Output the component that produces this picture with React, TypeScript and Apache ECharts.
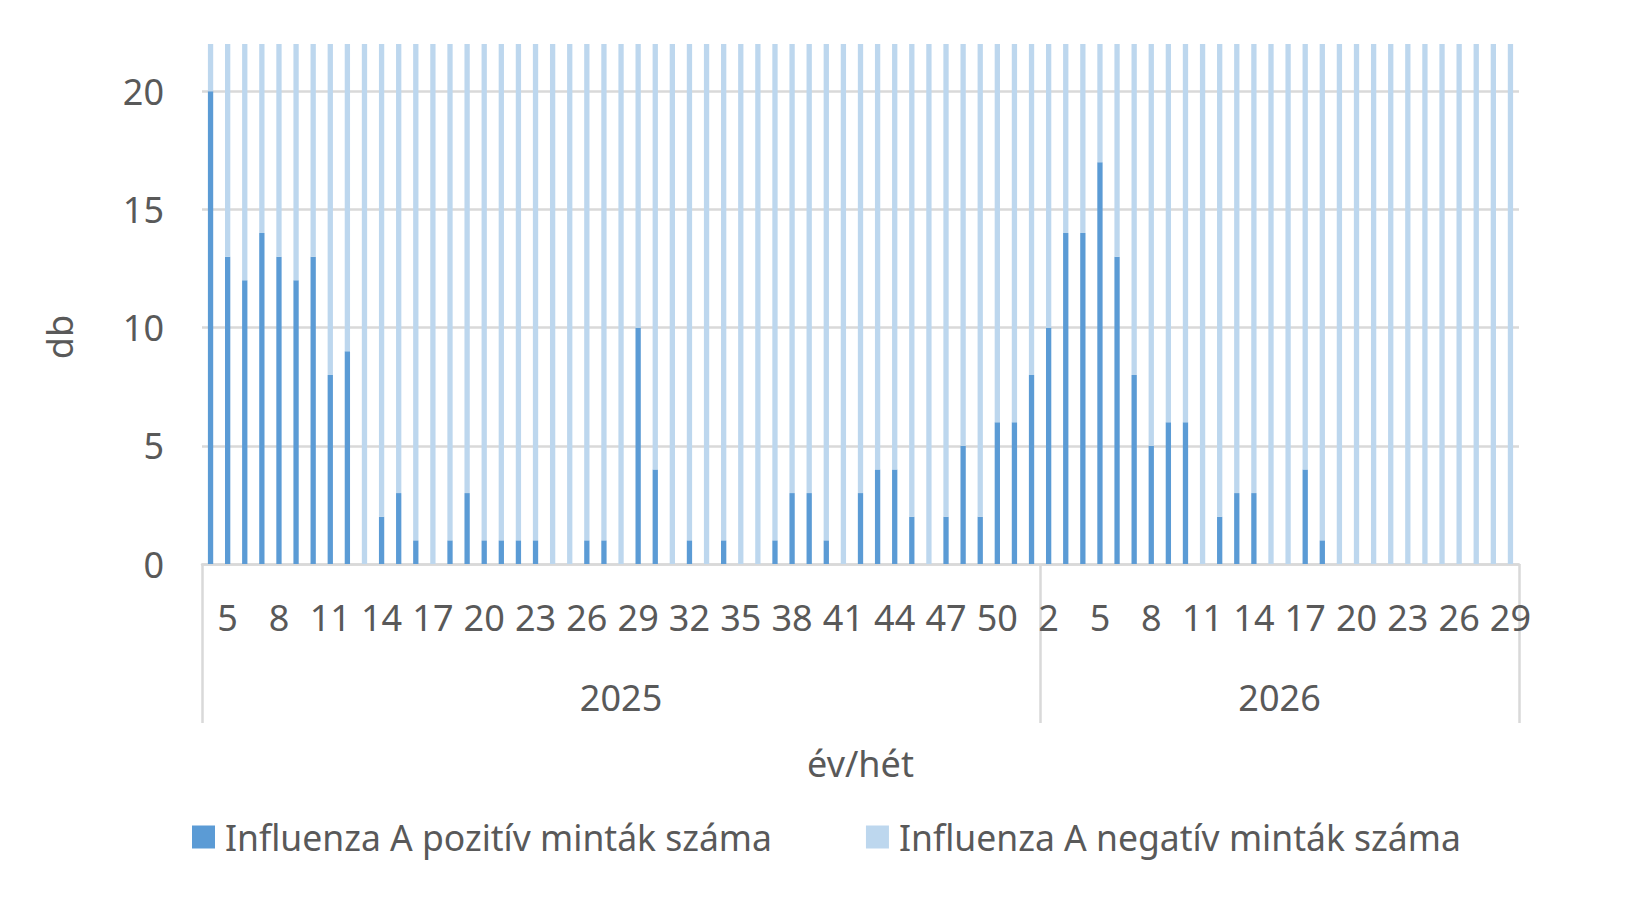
import React, { useEffect, useRef } from 'react'
import * as echarts from 'echarts'

// Hetek (kategóriák) évenként
const weeks2025 = [
  '4', '5', '6', '7', '8', '9', '10', '11', '12', '13', '14', '15', '16', '17', '18', '19', '20',
  '21', '22', '23', '24', '25', '26', '27', '28', '29', '30', '31', '32', '33', '34', '35', '36',
  '37', '38', '39', '40', '41', '42', '43', '44', '45', '46', '47', '48', '49', '50', '51', '52',
]
const weeks2026 = [
  '2', '3', '4', '5', '6', '7', '8', '9', '10', '11', '12', '13', '14', '15', '16', '17', '18',
  '19', '20', '21', '22', '23', '24', '25', '26', '27', '28', '29',
]
const years = ['2025', '2026']

const positive2025 = [
  20, 13, 12, 14, 13, 12, 13, 8, 9, 0, 2, 3, 1, 0, 1, 3, 1,
  1, 1, 1, 0, 0, 1, 1, 0, 10, 4, 0, 1, 0, 1, 0, 0,
  1, 3, 3, 1, 0, 3, 4, 4, 2, 0, 2, 5, 2, 6, 6, 8,
]
const positive2026 = [
  10, 14, 14, 17, 13, 8, 5, 6, 6, 0, 2, 3, 3, 0, 0, 4, 1,
  0, 0, 0, 0, 0, 0, 0, 0, 0, 0, 0,
]
// negatív minták: a tengely 22-nél levágja, becsült értékek
const negative2025 = [
  41, 44, 39, 46, 40, 43, 38, 42, 37, 45, 48, 44, 40, 39, 43, 47, 42,
  38, 41, 44, 39, 36, 40, 43, 45, 41, 38, 42, 40, 37, 44, 46, 39,
  41, 43, 40, 38, 42, 45, 41, 39, 44, 40, 37, 43, 46, 41, 39, 42,
]
const negative2026 = [
  44, 40, 42, 38, 45, 41, 43, 39, 46, 40, 42, 44, 38, 41, 45, 39, 43,
  40, 42, 44, 41, 38, 46, 40, 43, 39, 42, 41,
]

const seriesNames = ['Influenza A pozitív minták száma', 'Influenza A negatív minták száma']
const yTicks = { min: 0, max: 22, interval: 5 }

const FONT = '"Noto Sans", sans-serif'
const TEXT = '#595959'
const LINE = '#D9D9D9'

const App: React.FC = () => {
  const chartRef = useRef<HTMLDivElement>(null)

  useEffect(() => {
    if (!chartRef.current) return
    const chart = echarts.init(chartRef.current, undefined, { renderer: 'svg' })

    const categories = [
      ...weeks2025.map(w => `${years[0]}/${w}`),
      ...weeks2026.map(w => `${years[1]}/${w}`),
    ]
    const split = weeks2025.length
    const yearCenters = [split / 2, split + weeks2026.length / 2]

    const option = {
      animation: false,
      textStyle: { fontFamily: FONT },
      grid: { left: 202, right: 114, top: 44, bottom: 340 },
      legend: {
        left: 187,
        top: 814,
        itemWidth: 23,
        itemHeight: 23,
        itemGap: 94,
        icon: 'rect',
        textStyle: { color: TEXT, fontSize: 35.5, fontFamily: FONT, padding: [0, 0, 0, 5] },
        data: seriesNames,
      },
      xAxis: [
        {
          type: 'category',
          data: categories,
          axisLine: { lineStyle: { color: LINE, width: 2.5 } },
          axisTick: {
            show: true,
            interval: (i: number) => i === 0 || i === split,
            length: 159,
            lineStyle: { color: LINE, width: 2.5 },
          },
          axisLabel: {
            interval: (i: number) => i % 3 === 1,
            formatter: (v: string) => v.split('/')[1],
            color: TEXT,
            fontSize: 36,
            fontFamily: FONT,
            margin: 35,
          },
          name: 'év/hét',
          nameLocation: 'middle',
          nameGap: 181,
          nameTextStyle: { color: TEXT, fontSize: 36, fontFamily: FONT },
        },
        {
          type: 'value',
          min: 0,
          max: categories.length,
          position: 'bottom',
          axisLine: { show: false },
          axisTick: { show: false },
          splitLine: { show: false },
          axisLabel: {
            customValues: yearCenters,
            formatter: (v: number) => (v < split ? years[0] : years[1]),
            color: TEXT,
            fontSize: 36,
            fontFamily: FONT,
            margin: 115,
          },
        },
      ],
      yAxis: {
        type: 'value',
        min: yTicks.min,
        max: yTicks.max,
        interval: yTicks.interval,
        axisLine: { show: false },
        axisTick: { show: false },
        splitLine: { showMaxLine: false, lineStyle: { color: LINE, width: 2.5 } },
        axisLabel: { showMaxLabel: false, color: TEXT, fontSize: 36, fontFamily: FONT, margin: 38 },
        name: 'db',
        nameLocation: 'middle',
        nameRotate: 90,
        nameGap: 125,
        nameTextStyle: { color: TEXT, fontSize: 36, fontFamily: FONT, padding: [0, 66, 0, 0] },
      },
      series: [
        {
          name: seriesNames[0],
          type: 'bar',
          stack: 'total',
          barWidth: '31%',
          data: [...positive2025, ...positive2026],
          itemStyle: { color: '#5B9BD5' },
        },
        {
          name: seriesNames[1],
          type: 'bar',
          stack: 'total',
          barWidth: '31%',
          data: [...negative2025, ...negative2026],
          itemStyle: { color: '#BDD7EE' },
        },
      ],
    }

    chart.setOption(option)

    const handleResize = () => chart.resize()
    window.addEventListener('resize', handleResize)
    return () => {
      window.removeEventListener('resize', handleResize)
      chart.dispose()
    }
  }, [])

  return (
    <div
      ref={chartRef}
      style={{ position: 'fixed', left: 0, top: 0, width: 1633, height: 904, background: '#fff' }}
    />
  )
}

export default App
